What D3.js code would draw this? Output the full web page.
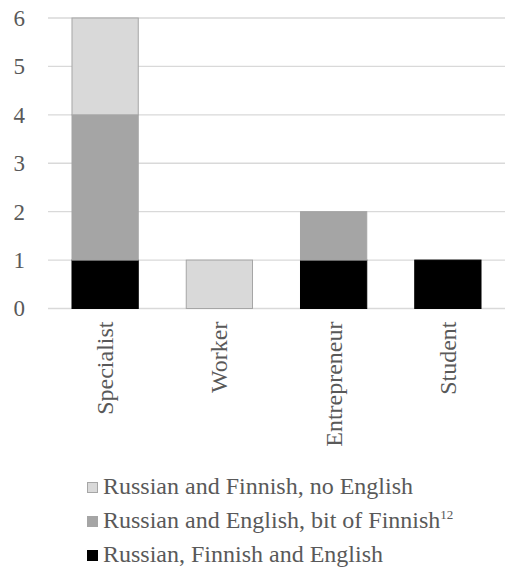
<!DOCTYPE html>
<html>
<head>
<meta charset="utf-8">
<script src="https://cdn.jsdelivr.net/npm/d3@7"></script>
<style>
  html, body { margin: 0; padding: 0; background: #fff; }
  svg { display: block; }
</style>
</head>
<body>
<svg id="chart" width="506" height="585" font-family="Liberation Serif" fill="#595959"></svg>
<script>
// Occupations on the x axis
const categories = ["Specialist", "Worker", "Entrepreneur", "Student"];

// Language groups, stacked bottom to top
const seriesNames = [
  "Russian, Finnish and English",
  "Russian and English, bit of Finnish",
  "Russian and Finnish, no English"
];
const rfe = [1, 0, 1, 1];   // Russian, Finnish and English
const reF = [3, 0, 1, 0];   // Russian and English, bit of Finnish
const rfNoE = [2, 1, 0, 0]; // Russian and Finnish, no English

const yTicks = [0, 1, 2, 3, 4, 5, 6];

const fills = ["#000000", "#a5a5a5", "#d9d9d9"];
const strokes = ["#000000", "#a5a5a5", "#a6a6a6"];

const FONT = "Liberation Serif";
const TEXT_COLOR = "#595959";

const svg = d3.select("#chart");
const margin = { left: 48, right: 1, top: 18, bottom: 276 };
const W = 506, H = 585;

const x = d3.scaleBand()
  .domain(categories)
  .range([margin.left, W - margin.right])
  .paddingInner(0.42)
  .paddingOuter(0.21);

const y = d3.scaleLinear()
  .domain([0, 6])
  .range([H - margin.bottom - 0.5, margin.top]);

// Gridlines
svg.append("g")
  .selectAll("line")
  .data(yTicks)
  .join("line")
  .attr("x1", margin.left)
  .attr("x2", W - margin.right)
  .attr("y1", d => y(d))
  .attr("y2", d => y(d))
  .attr("stroke", "#d9d9d9")
  .attr("stroke-width", 1.3);

// Y axis labels
const yAxis = d3.axisLeft(y).tickValues(yTicks).tickSize(0).tickPadding(0).tickFormat(d3.format("d"));
svg.append("g")
  .attr("transform", `translate(25,0)`)
  .call(yAxis)
  .call(g => g.select(".domain").remove())
  .call(g => g.attr("font-family", FONT).attr("font-size", 23))
  .selectAll("text")
  .attr("fill", TEXT_COLOR)
  .attr("dy", "0.32em");

// Stacked bars
const rows = categories.map((c, i) => ({
  cat: c,
  [seriesNames[0]]: rfe[i],
  [seriesNames[1]]: reF[i],
  [seriesNames[2]]: rfNoE[i]
}));
const stacked = d3.stack().keys(seriesNames)(rows);

svg.append("g")
  .selectAll("g")
  .data(stacked)
  .join("g")
  .attr("fill", (d, i) => fills[i])
  .attr("stroke", (d, i) => strokes[i])
  .selectAll("rect")
  .data(d => d.filter(p => p[1] - p[0] > 0))
  .join("rect")
  .attr("x", p => x(p.data.cat))
  .attr("width", x.bandwidth())
  .attr("y", p => y(p[1]))
  .attr("height", p => y(p[0]) - y(p[1]))
  .attr("stroke-width", 1);

// Category labels (rotated)
const xAxis = d3.axisBottom(x).tickSize(0).tickPadding(0);
svg.append("g")
  .attr("transform", `translate(0,${y(0)})`)
  .call(xAxis)
  .call(g => g.select(".domain").remove())
  .call(g => g.attr("font-family", FONT).attr("font-size", 24))
  .selectAll("text")
  .attr("fill", TEXT_COLOR)
  .attr("text-anchor", "end")
  .attr("transform", "rotate(-90)")
  .attr("x", -13)
  .attr("y", 0)
  .attr("dy", "0.33em");

// Legend: top entry is the top of the stack
const legendOrder = [2, 1, 0];
const legend = svg.append("g").attr("font-family", FONT).attr("font-size", 24);
legendOrder.forEach((si, row) => {
  const base = 494 + row * 34;
  legend.append("rect")
    .attr("x", 87.5)
    .attr("y", base - 11.5)
    .attr("width", 10)
    .attr("height", 10)
    .attr("fill", fills[si])
    .attr("stroke", strokes[si])
    .attr("stroke-width", 1);
  const t = legend.append("text")
    .attr("x", 103)
    .attr("y", base)
    .attr("fill", TEXT_COLOR)
    .text(seriesNames[si]);
  if (si === 1) {
    t.append("tspan")
      .attr("font-size", 13)
      .attr("dy", "-9")
      .text("12");
  }
});
</script>
</body>
</html>
